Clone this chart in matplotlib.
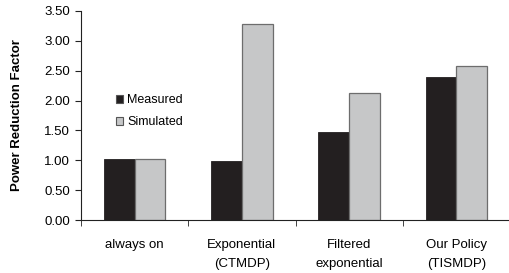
import matplotlib
matplotlib.use("Agg")
import matplotlib.pyplot as plt
import numpy as np

categories = ["always on", "Exponential\n(CTMDP)", "Filtered\nexponential", "Our Policy\n(TISMDP)"]
measured = [1.02, 0.98, 1.48, 2.39]
simulated = [1.02, 3.28, 2.12, 2.57]

plt.rcParams['font.family'] = ['Liberation Sans', 'DejaVu Sans']

fig = plt.figure(figsize=(5.10, 2.73), dpi=100)
ax = fig.add_axes([0.159, 0.194, 0.841, 0.766])

x = np.arange(len(categories))
w = 0.286
ax.bar(x - w / 2, measured, w, color="#231f20", edgecolor="#231f20", linewidth=0.6, label="Measured")
ax.bar(x + w / 2, simulated, w, color="#c6c7c8", edgecolor="#6d6d6d", linewidth=0.9, label="Simulated")

ax.set_ylim(0, 3.5)
ax.set_yticks(np.arange(0, 3.51, 0.5))
ax.set_yticklabels(["%.2f" % v for v in np.arange(0, 3.51, 0.5)], fontsize=9.5)
ax.set_xlim(-0.5, 3.455)
ax.set_xticks(x)
ax.set_xticklabels(categories, fontsize=9.5, linespacing=1.75)
ax.set_xticks(np.arange(-0.5, 4, 1), minor=True)
ax.tick_params(axis="x", which="major", length=0, pad=14)
ax.tick_params(axis="x", which="minor", length=4, direction="out", color="#222222")
ax.tick_params(axis="y", length=4, color="#222222", pad=4)
for s in ["top", "right"]:
    ax.spines[s].set_visible(False)
for s in ["left", "bottom"]:
    ax.spines[s].set_color("#222222")
ax.set_ylabel("Power Reduction Factor", fontsize=9.5, fontweight="bold", labelpad=15)

leg = ax.legend(loc="upper left", bbox_to_anchor=(0.055, 0.655), frameon=False, fontsize=9,
                handlelength=0.6, handleheight=0.6, handletextpad=0.3, labelspacing=0.8)
for h in leg.legend_handles:
    h.set_edgecolor("#555555")
    h.set_linewidth(0.8)

fig.savefig("out.png", dpi=100)
